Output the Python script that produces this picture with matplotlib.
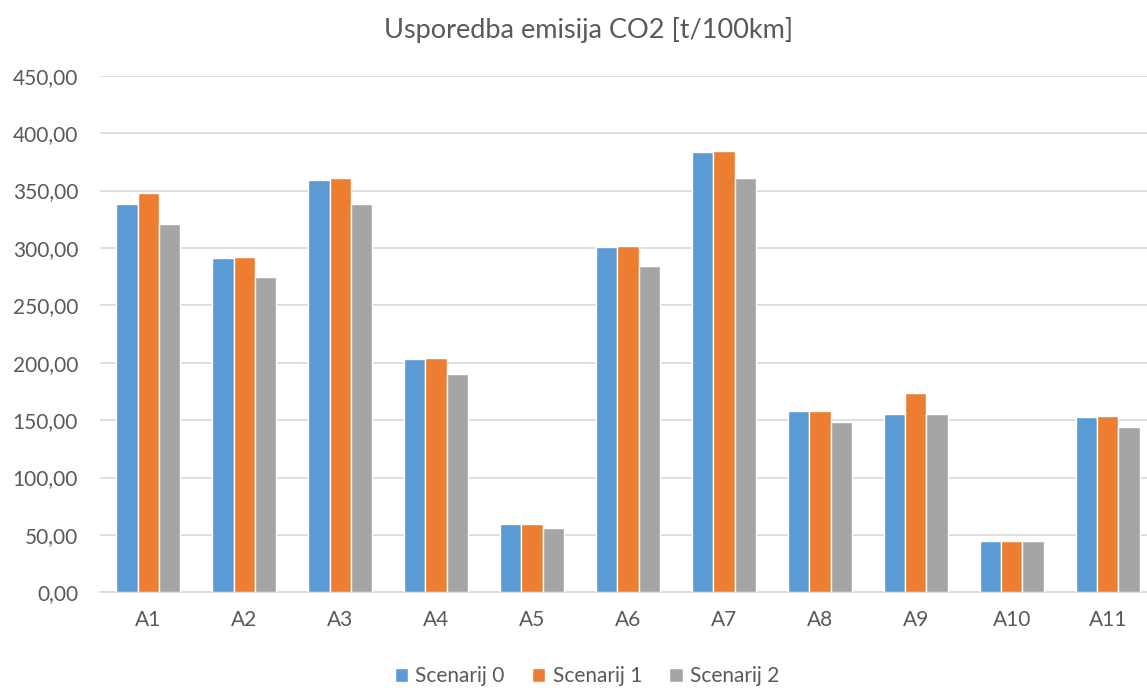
import numpy as np
import matplotlib.pyplot as plt

categories = ['A1', 'A2', 'A3', 'A4', 'A5', 'A6', 'A7', 'A8', 'A9', 'A10', 'A11']
scenarij_0 = [338.5, 291.2, 359.5, 202.8, 59.8, 300.9, 383.7, 157.5, 155.3, 44.5, 152.8]
scenarij_1 = [348.0, 292.4, 361.0, 203.7, 59.9, 302.0, 384.8, 158.1, 174.0, 44.6, 153.7]
scenarij_2 = [321.2, 274.4, 338.6, 190.4, 56.3, 283.8, 361.3, 148.1, 155.3, 44.6, 144.1]
series_names = ['Scenarij 0', 'Scenarij 1', 'Scenarij 2']
yticks = np.arange(0, 451, 50)

plt.rcParams['font.family'] = ['Lato', 'DejaVu Sans']
txt = '#595959'
colors = ['#5B9BD5', '#ED7D31', '#A5A5A5']

fig = plt.figure(figsize=(11.47, 6.88), dpi=100)
# axes run a bit past the right edge, as in the cropped original
ax = fig.add_axes([100.3 / 1147, 1 - 592.3 / 688, 1055.4 / 1147, (592.3 - 75.7) / 688])

x = np.arange(len(categories))
w = 0.222
for i, (vals, name) in enumerate(zip([scenarij_0, scenarij_1, scenarij_2], series_names)):
    ax.bar(x + (i - 1) * w, vals, width=w, color=colors[i], edgecolor='white',
           linewidth=1.0, label=name, zorder=3)

ax.set_xlim(-0.5, len(categories) - 0.5)
ax.set_ylim(0, 450)
ax.set_yticks(yticks)
ax.set_yticklabels([f'{v:.2f}'.replace('.', ',') for v in yticks], color=txt, fontsize=15)
ax.set_xticks(x)
ax.set_xticklabels(categories, color=txt, fontsize=15)
ax.tick_params(axis='both', length=0)
ax.tick_params(axis='x', pad=13)
ax.tick_params(axis='y', pad=16)
ax.grid(axis='y', color='#D9D9D9', linewidth=1.2, zorder=0)
for s in ['top', 'right', 'left']:
    ax.spines[s].set_visible(False)
ax.spines['bottom'].set_color('#D9D9D9')
ax.spines['bottom'].set_linewidth(1.2)

fig.text(589 / 1147, 1 - 30 / 688, 'Usporedba emisija CO2 [t/100km]', ha='center', va='center',
         fontsize=19.5, color=txt)

handles, labels = ax.get_legend_handles_labels()
fig.legend(handles, labels, loc='center', bbox_to_anchor=(587 / 1147, 1 - 676 / 688), ncol=3,
           frameon=False, fontsize=15, labelcolor=txt, handlelength=0.65, handleheight=0.65,
           handletextpad=0.35, columnspacing=1.3)

fig.savefig('out.png', dpi=100)
